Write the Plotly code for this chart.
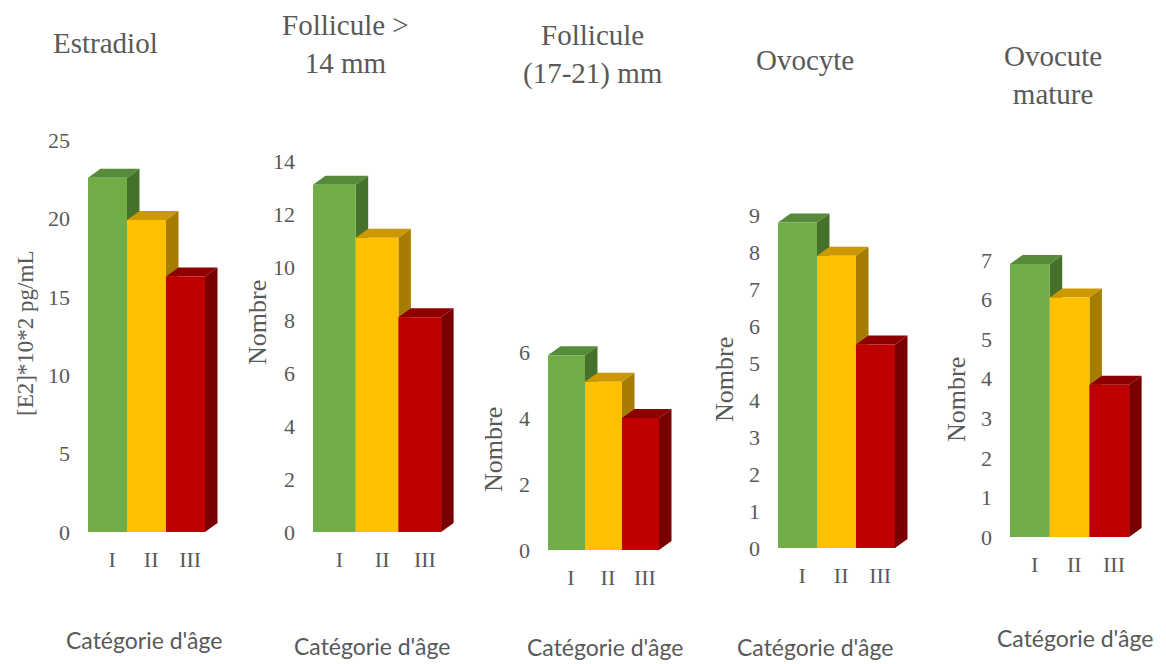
import plotly.graph_objects as go

# ---------------- data ----------------
categories = ["I", "II", "III"]
panel_titles = ["Estradiol", "Follicule &gt;<br>14 mm", "Follicule<br>(17-21) mm",
                "Ovocyte", "Ovocute<br>mature"]
y_titles = ["[E2]*10*2 pg/mL", "Nombre", "Nombre", "Nombre", "Nombre"]
x_title = "Catégorie d'âge"

estradiol = [22.6, 19.9, 16.3]
follicule_14 = [13.1, 11.1, 8.1]
follicule_17_21 = [5.9, 5.1, 4.0]
ovocyte = [8.8, 7.9, 5.5]
ovocyte_mature = [6.9, 6.05, 3.85]
series = [estradiol, follicule_14, follicule_17_21, ovocyte, ovocyte_mature]

y_max = [25, 14, 6, 9, 7]
y_dtick = [5, 2, 2, 1, 1]

# ---------------- style / layout geometry (pixels) ----------------
W_FIG, H_FIG = 1166, 664
front_colors = ["#70AD47", "#FFC000", "#C00000"]
top_colors = ["#558B39", "#CC9900", "#8E0000"]
side_colors = ["#46712B", "#A67D00", "#780000"]
TXT = "#595959"
SERIF = "Liberation Serif, Times New Roman, serif"
SANS = "Lato, Carlito, Calibri, sans-serif"

geom = [
    dict(L=88, W=39.0, Y0=532, YT=140, title=(105, 43), ytl=(25, 334), xtl=(144, 640), fs=22, yts=23),
    dict(L=313, W=42.7, Y0=532, YT=161, title=(345, 44), ytl=(257, 323), xtl=(372, 646), fs=22, yts=26),
    dict(L=548, W=37.0, Y0=550, YT=352, title=(593, 54), ytl=(493, 450), xtl=(605, 647), fs=22, yts=26),
    dict(L=778, W=39.0, Y0=548, YT=215, title=(805, 60), ytl=(724, 380), xtl=(815, 647), fs=22, yts=26),
    dict(L=1010, W=39.7, Y0=537, YT=260, title=(1053, 75), ytl=(956, 400), xtl=(1075, 638), fs=22, yts=26),
]
DX_PX, DY_PX = 12.5, 9.0

fig = go.Figure()
layout = dict(width=W_FIG, height=H_FIG, margin=dict(l=0, r=0, t=0, b=0, pad=0),
              paper_bgcolor="white", plot_bgcolor="rgba(0,0,0,0)",
              showlegend=False, annotations=[])

for k, (vals, g) in enumerate(zip(series, geom)):
    n_base = k + 1
    n_over = k + 6
    ppu = (g["Y0"] - g["YT"]) / y_max[k]
    extra_top = 14
    x0_px = g["L"]
    x1_px = g["L"] + 3 * g["W"] + DX_PX + 4
    y_bot_px = g["Y0"]
    y_top_px = g["YT"] - extra_top
    xr = [-0.5, -0.5 + (x1_px - x0_px) / g["W"]]
    yr = [0, y_max[k] + extra_top / ppu]
    xdom = [x0_px / W_FIG, x1_px / W_FIG]
    ydom = [1 - y_bot_px / H_FIG, 1 - y_top_px / H_FIG]
    ddx = DX_PX / g["W"]
    ddy = DY_PX / ppu

    xb = "x" if n_base == 1 else f"x{n_base}"
    yb = "y" if n_base == 1 else f"y{n_base}"
    xo, yo = f"x{n_over}", f"y{n_over}"

    # 3D depth faces (tops and sides), drawn in the base layer
    for i, v in enumerate(vals):
        xl, xrr = i - 0.5, i + 0.5
        top_x = [xl, xl + ddx, xrr + ddx, xrr, xl]
        top_y = [v, v + ddy, v + ddy, v, v]
        side_x = [xrr, xrr + ddx, xrr + ddx, xrr, xrr]
        side_y = [0, ddy, v + ddy, v, 0]
        fig.add_trace(go.Scatter(x=top_x, y=top_y, xaxis=xb, yaxis=yb, mode="lines",
                                 line=dict(width=0, color=top_colors[i]), fill="toself",
                                 fillcolor=top_colors[i], hoverinfo="skip"))
        fig.add_trace(go.Scatter(x=side_x, y=side_y, xaxis=xb, yaxis=yb, mode="lines",
                                 line=dict(width=0, color=side_colors[i]), fill="toself",
                                 fillcolor=side_colors[i], hoverinfo="skip"))

    # front faces as real bars on an overlaying subplot
    fig.add_trace(go.Bar(x=[0, 1, 2], y=vals, width=1, xaxis=xo, yaxis=yo,
                         marker=dict(color=front_colors, line=dict(width=0)),
                         hovertext=categories, name=y_titles[k]))

    tick_font = dict(family=SERIF, size=g["fs"], color=TXT)
    layout[f"xaxis{n_base}"] = dict(domain=xdom, range=xr, anchor=yb, showgrid=False,
                                    zeroline=False, showline=False, ticks="",
                                    automargin=False,
                                    tickvals=[0.12, 1.12, 2.12], ticktext=categories,
                                    tickfont=tick_font, ticklabelstandoff=12)
    layout[f"yaxis{n_base}"] = dict(domain=ydom, range=yr, anchor=xb, showgrid=False,
                                    zeroline=False, showline=False, ticks="",
                                    automargin=False,
                                    tickvals=list(range(0, y_max[k] + 1, y_dtick[k])),
                                    tickfont=tick_font, ticklabelstandoff=17)
    layout[f"xaxis{n_over}"] = dict(overlaying=xb, range=xr, visible=False, anchor=yo,
                                    automargin=False)
    layout[f"yaxis{n_over}"] = dict(overlaying=yb, range=yr, visible=False, anchor=xo,
                                    automargin=False)

    # chart title
    layout["annotations"].append(dict(
        text=panel_titles[k], x=g["title"][0] / W_FIG, y=1 - g["title"][1] / H_FIG,
        xref="paper", yref="paper", xanchor="center", yanchor="middle", showarrow=False,
        font=dict(family=SERIF, size=29, color=TXT)))
    # y axis title
    layout["annotations"].append(dict(
        text=y_titles[k], x=g["ytl"][0] / W_FIG, y=1 - g["ytl"][1] / H_FIG,
        xref="paper", yref="paper", xanchor="center", yanchor="middle", showarrow=False,
        textangle=-90, font=dict(family=SERIF, size=g["yts"], color=TXT)))
    # x axis title
    layout["annotations"].append(dict(
        text=x_title, x=g["xtl"][0] / W_FIG, y=1 - g["xtl"][1] / H_FIG,
        xref="paper", yref="paper", xanchor="center", yanchor="middle", showarrow=False,
        font=dict(family=SANS, size=23, color=TXT)))

fig.update_layout(**layout)
fig.write_html("out.html")
